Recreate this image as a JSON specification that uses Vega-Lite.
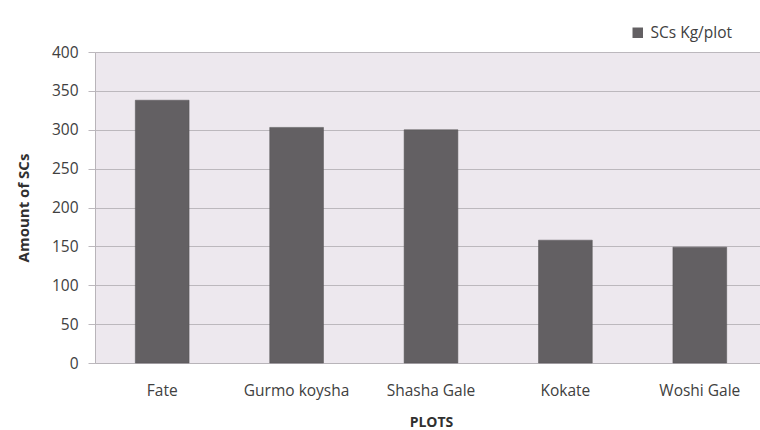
{
  "$schema": "https://vega.github.io/schema/vega-lite/v6.json",
  "autosize": "none",
  "width": 672,
  "height": 311,
  "padding": {"left": 95, "top": 52, "right": 0, "bottom": 67},
  "background": "#ffffff",
  "data": {
    "values": [
      {"plot": "Fate", "value": 338, "series": "SCs Kg/plot"},
      {"plot": "Gurmo koysha", "value": 303, "series": "SCs Kg/plot"},
      {"plot": "Shasha Gale", "value": 300, "series": "SCs Kg/plot"},
      {"plot": "Kokate", "value": 158, "series": "SCs Kg/plot"},
      {"plot": "Woshi Gale", "value": 149, "series": "SCs Kg/plot"}
    ]
  },
  "mark": {"type": "bar", "stroke": "#555255", "strokeWidth": 0.5},
  "encoding": {
    "x": {
      "field": "plot",
      "type": "nominal",
      "sort": null,
      "scale": {"paddingInner": 0.6, "paddingOuter": 0.3},
      "axis": {
        "title": "PLOTS",
        "labelAngle": 0,
        "ticks": false,
        "domain": true,
        "domainColor": "#b8b4b9",
        "labelPadding": 20,
        "labelFont": "Open Sans",
        "labelFontSize": 15.5,
        "labelColor": "#404040",
        "titleFont": "Open Sans",
        "titleFontSize": 14,
        "titleFontWeight": "bold",
        "titleColor": "#303030",
        "titlePadding": 17
      }
    },
    "y": {
      "field": "value",
      "type": "quantitative",
      "scale": {"domain": [0, 400]},
      "axis": {
        "title": "Amount of SCs",
        "values": [0, 50, 100, 150, 200, 250, 300, 350, 400],
        "grid": true,
        "gridColor": "#bcb8bd",
        "gridWidth": 1,
        "tickColor": "#bcb8bd",
        "tickSize": 7,
        "domainColor": "#b8b4b9",
        "labelPadding": 10,
        "labelFont": "Open Sans",
        "labelFontSize": 15.5,
        "labelColor": "#404040",
        "titleFont": "Open Sans",
        "titleFontSize": 15,
        "titleFontWeight": "bold",
        "titleColor": "#303030",
        "titlePadding": 20
      }
    },
    "color": {
      "field": "series",
      "type": "nominal",
      "scale": {"range": ["#636063"]},
      "legend": {
        "title": null,
        "orient": "none",
        "legendX": 535,
        "legendY": -27,
        "symbolType": "square",
        "symbolSize": 110,
        "symbolStrokeWidth": 0,
        "labelFont": "Open Sans",
        "labelFontSize": 15.5,
        "labelColor": "#404040",
        "labelOffset": 5
      }
    }
  },
  "config": {
    "view": {"fill": "#ede8ee", "stroke": null}
  }
}
